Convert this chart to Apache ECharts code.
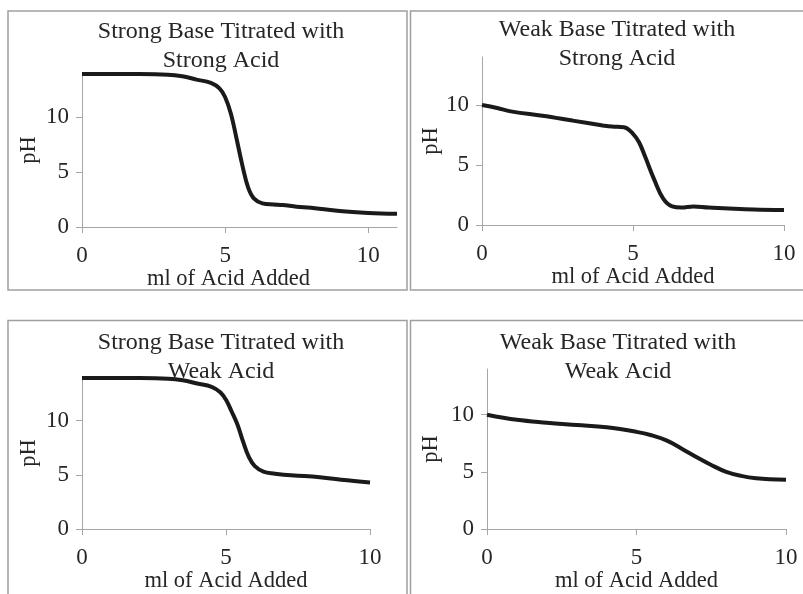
<!DOCTYPE html>
<html>
<head>
<meta charset="utf-8">
<script src="https://cdn.jsdelivr.net/npm/echarts@6/dist/echarts.min.js"></script>
<style>
  html, body { margin: 0; padding: 0; background: #fff; }
  #chart { width: 803px; height: 594px; }
</style>
</head>
<body>
<div id="chart"></div>
<script>
// titration curves
var strongStrongX  = [0, 1, 2, 3, 3.5, 4, 4.5, 4.8, 5, 5.2, 5.4, 5.6, 5.8, 6, 6.3, 6.7, 7, 7.5, 8, 9, 10, 11];
var strongStrongPH = [13.9, 13.9, 13.9, 13.85, 13.7, 13.4, 13.1, 12.6, 11.8, 10.3, 8.0, 5.6, 3.6, 2.6, 2.15, 2.05, 2.0, 1.85, 1.75, 1.45, 1.28, 1.2];

var weakStrongX  = [0, 0.5, 1, 2, 3, 4, 4.3, 4.7, 5, 5.2, 5.4, 5.7, 6, 6.3, 6.6, 7, 7.5, 8, 9, 10];
var weakStrongPH = [10, 9.75, 9.45, 9.1, 8.7, 8.3, 8.2, 8.15, 7.6, 6.9, 5.7, 3.8, 2.2, 1.55, 1.45, 1.55, 1.45, 1.4, 1.3, 1.25];

var strongWeakX  = [0, 1, 2, 3, 3.5, 4, 4.5, 4.8, 5, 5.2, 5.4, 5.6, 5.8, 6, 6.3, 6.7, 7, 7.5, 8, 9, 10];
var strongWeakPH = [13.9, 13.9, 13.9, 13.85, 13.7, 13.4, 13.1, 12.6, 11.9, 10.8, 9.6, 8.0, 6.6, 5.8, 5.3, 5.1, 5.0, 4.9, 4.85, 4.55, 4.3];

var weakWeakX  = [0, 1, 2, 3, 4, 5, 5.5, 6, 6.5, 7, 7.5, 8, 8.5, 9, 10];
var weakWeakPH = [10, 9.55, 9.3, 9.1, 8.9, 8.5, 8.2, 7.75, 7.05, 6.3, 5.6, 5.0, 4.65, 4.45, 4.3];

var titles = [
  'Strong Base Titrated with\nStrong Acid',
  'Weak Base Titrated with\nStrong Acid',
  'Strong Base Titrated with\nWeak Acid',
  'Weak Base Titrated with\nWeak Acid'
];
var xTicks = [0, 5, 10];
var yTicks = [0, 5, 10];
var xName = 'ml of Acid Added';
var yName = 'pH';

var font = '"Liberation Serif", "DejaVu Serif", serif';
var textColor = '#262626';
var axisColor = '#a6a6a6';

function pairs(xs, ys) {
  return xs.map(function (x, i) { return [x, ys[i]]; });
}

// panel layout
var grids = [
  { left: 82,  top: 73,  width: 315, height: 154 },
  { left: 482, top: 57,  width: 302, height: 168 },
  { left: 82,  top: 377, width: 288, height: 160 },
  { left: 487, top: 369, width: 299, height: 161 }
];
var xMax = [11, 10, 10, 10];
var titlePos = [[221, 17], [617, 15], [221, 328], [618, 328]];
var xNameGap = [37, 37, 35, 41];
var xNamePad = [[0, 22, 0, 0], 0, 0, 0];
var yNameGap = [41, 37, 41, 44];
var seriesData = [
  pairs(strongStrongX, strongStrongPH),
  pairs(weakStrongX, weakStrongPH),
  pairs(strongWeakX, strongWeakPH),
  pairs(weakWeakX, weakWeakPH)
];

var option = {
  backgroundColor: '#fff',
  animation: false,
  title: [],
  grid: [],
  xAxis: [],
  yAxis: [],
  series: [],
  graphic: [
    { type: 'rect', shape: { x: 8, y: 11, width: 399, height: 279 }, style: { fill: 'none', stroke: '#a0a0a0', lineWidth: 1.5 } },
    { type: 'rect', shape: { x: 410.5, y: 11, width: 400, height: 279 }, style: { fill: 'none', stroke: '#a0a0a0', lineWidth: 1.5 } },
    { type: 'rect', shape: { x: 8, y: 320.5, width: 399, height: 300 }, style: { fill: 'none', stroke: '#a0a0a0', lineWidth: 1.5 } },
    { type: 'rect', shape: { x: 410.5, y: 320.5, width: 400, height: 300 }, style: { fill: 'none', stroke: '#a0a0a0', lineWidth: 1.5 } }
  ]
};

for (var i = 0; i < 4; i++) {
  option.title.push({
    text: titles[i],
    left: titlePos[i][0],
    top: titlePos[i][1],
    textAlign: 'center',
    padding: 0,
    textStyle: { fontFamily: font, fontSize: 24, fontWeight: 'normal', color: textColor, lineHeight: 29 }
  });
  option.grid.push(grids[i]);
  option.xAxis.push({
    type: 'value',
    gridIndex: i,
    min: 0,
    max: xMax[i],
    interval: 5,
    name: xName,
    nameLocation: 'middle',
    nameGap: xNameGap[i],
    nameTextStyle: { fontFamily: font, fontSize: 22.5, color: textColor, padding: xNamePad[i] },
    axisLine: { show: true, lineStyle: { color: axisColor, width: 1 } },
    axisTick: { show: true, length: 6, customValues: xTicks, lineStyle: { color: axisColor } },
    axisLabel: { customValues: xTicks, margin: 17, fontFamily: font, fontSize: 23, color: textColor },
    splitLine: { show: false }
  });
  option.yAxis.push({
    type: 'value',
    gridIndex: i,
    min: 0,
    max: 14,
    interval: 5,
    name: yName,
    nameLocation: 'middle',
    nameGap: yNameGap[i],
    nameTextStyle: { fontFamily: font, fontSize: 22.5, color: textColor },
    axisLine: { show: true, lineStyle: { color: axisColor, width: 1 } },
    axisTick: { show: true, length: 6, customValues: yTicks, lineStyle: { color: axisColor } },
    axisLabel: { customValues: yTicks, margin: 13, fontFamily: font, fontSize: 23, color: textColor },
    splitLine: { show: false }
  });
  option.series.push({
    type: 'line',
    xAxisIndex: i,
    yAxisIndex: i,
    data: seriesData[i],
    smooth: 0.4,
    showSymbol: false,
    lineStyle: { color: '#1a1a1a', width: 4 }
  });
}

var chart = echarts.init(document.getElementById('chart'));
chart.setOption(option);
</script>
</body>
</html>
